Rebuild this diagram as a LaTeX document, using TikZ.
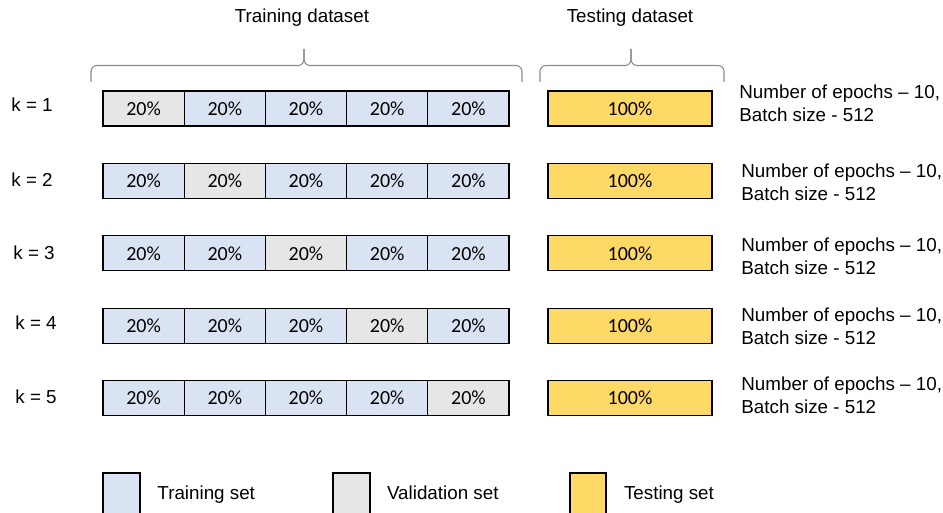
\documentclass[tikz,border=0pt]{standalone}
\usepackage{fontspec}
\setmainfont{Liberation Sans}
\newfontfamily\calibri{Carlito}
\usetikzlibrary{positioning}

\definecolor{azul}{HTML}{DAE3F3}
\definecolor{gris}{HTML}{E7E6E6}
\definecolor{amarillo}{HTML}{FFD966}
\definecolor{grisllave}{HTML}{8C8C8C}

\begin{document}
\begin{tikzpicture}[x=0.5pt, y=-0.5pt, font=\fontsize{9.4}{11.5}\selectfont,
                    celda/.style={draw, line width=0.55pt, inner sep=0pt,
                    outer sep=0pt, minimum width=40.6pt, minimum height=17.5pt,
                    font=\calibri\fontsize{10}{12}\selectfont},
                    prueba/.style={celda, fill=amarillo, minimum width=82pt},
                    llave/.style={draw=grisllave, line width=0.55pt,
                    rounded corners=3pt},
                    muestra/.style={draw, line width=0.55pt, outer sep=0pt,
                    minimum width=18.5pt, minimum height=21pt},
                    etiqueta/.style={text height=7pt, text depth=2pt}]

  \useasboundingbox (0,0) rectangle (943,513);

  % Llaves y títulos de los dos conjuntos de datos.
  \coordinate (ent-a) at (91,82);
  \coordinate (ent-b) at (522,82);
  \coordinate (ent-m) at (304,65.5);
  \coordinate (ent-p) at (304,49);
  \coordinate (pru-a) at (540,82);
  \coordinate (pru-b) at (724,82);
  \coordinate (pru-m) at (631,65.5);
  \coordinate (pru-p) at (631,49);
  \draw[llave] (ent-a) |- (ent-m) -- (ent-p);
  \draw[llave] (ent-b) |- (ent-m) -- (ent-p);
  \draw[llave] (pru-a) |- (pru-m) -- (pru-p);
  \draw[llave] (pru-b) |- (pru-m) -- (pru-p);
  \node (titent) at (302,18) {Training dataset};
  \node (titpru) at (630,18) {Testing dataset};

  % Filas de la validación cruzada: la celda k es la de validación.
  \foreach \k/\xk/\yk/\xn/\yn in {1/11/105/739/103.5, 2/11/180/741/182.5,
                                  3/13/253/741/256, 4/15/323/741/326.5,
                                  5/15/397/741/395.5} {
    \node[anchor=west, inner sep=0pt] (k\k) at (\xk,\yk) {k = \k};
    \foreach \c in {1,...,5} {
      \ifnum\c=\k \def\relleno{gris}\else\def\relleno{azul}\fi
      \node[celda, fill=\relleno] (c\k-\c)
        at ({62.4+81.2*\c}, {108.5+72.4*(\k-1)}) {20\%};
    }
    \node[prueba, right=19.5pt of c\k-5] (t\k) {100\%};
    \node[anchor=west, align=left, inner sep=0pt] (n\k) at (\xn,\yn)
      {Number of epochs – 10,\\Batch size - 512};
  }

  % Leyenda.
  \node[muestra, fill=azul] (m1) at (121.5,494) {};
  \node[etiqueta, right=5.2pt of m1] (e1) {Training set};
  \node[muestra, fill=gris] (m2) at (351.5,494) {};
  \node[etiqueta, right=5pt of m2] (e2) {Validation set};
  \node[muestra, fill=amarillo, minimum width=18pt] (m3) at (588,494) {};
  \node[etiqueta, right=5.5pt of m3] (e3) {Testing set};

\end{tikzpicture}
\end{document}
